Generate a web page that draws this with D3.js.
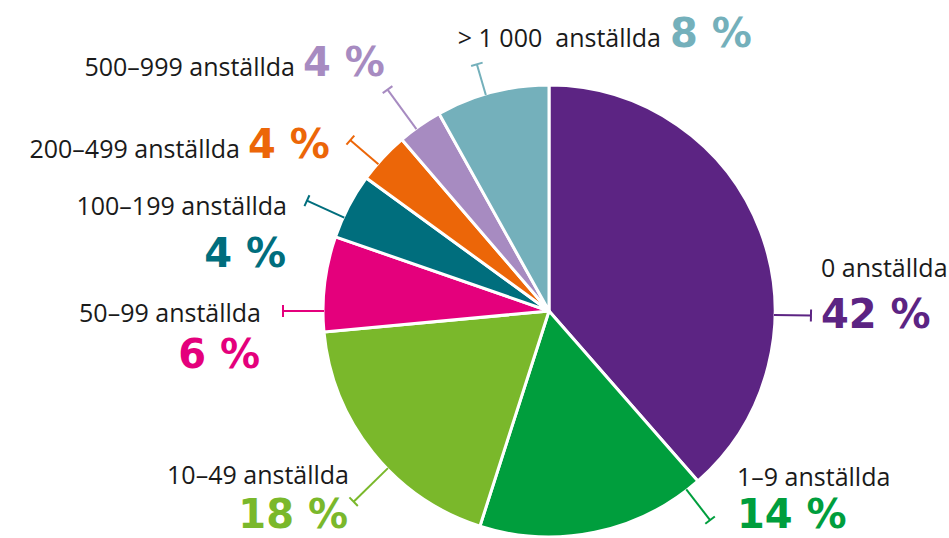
<!DOCTYPE html>
<html>
<head>
<meta charset="utf-8">
<script src="https://cdn.jsdelivr.net/npm/d3@7"></script>
<style>
  body { margin: 0; background: #fff; }
  text { white-space: pre; }
</style>
</head>
<body>
<svg id="pie"></svg>
<script>
// Data (slice shares as drawn, printed labels)
const categories = ["0 anställda", "1–9 anställda", "10–49 anställda", "50–99 anställda",
  "100–199 anställda", "200–499 anställda", "500–999 anställda", "> 1 000  anställda"];
const shares = [38.6, 16.4, 18.6, 6.8, 4.7, 3.7, 3.2, 8.1];
const pctLabels = ["42 %", "14 %", "18 %", "6 %", "4 %", "4 %", "4 %", "8 %"];
const colors = ["#5c2483", "#009e3d", "#7ab82b", "#e4007c", "#006e7d", "#ec6608", "#a78bc1", "#74b0bb"];

// label layout: leader angle (deg), leader end radius, name pos, pct pos
const layout = [
  { a: 91, r: 262, nx: 821, ny: 277, na: "start", px: 821, py: 328, pa: "start" },
  { a: 142.4, r: 264, nx: 737, ny: 486, na: "start", px: 737, py: 528, pa: "start" },
  { a: 225.7, r: 273, nx: 349, ny: 484, na: "end", px: 348, py: 528, pa: "end" },
  { a: 270, r: 266, nx: 261, ny: 322, na: "end", px: 260, py: 368, pa: "end" },
  { a: 294.5, r: 266, nx: 287, ny: 215, na: "end", px: 286, py: 267, pa: "end" },
  { a: 310.7, r: 262, nx: 240, ny: 158, na: "end", px: 248, py: 158, pa: "start" },
  { a: 323.9, r: 274, nx: 295, ny: 76, na: "end", px: 303, py: 76, pa: "start" },
  { a: 343.7, r: 257, nx: 661, ny: 47, na: "end", px: 670, py: 47, pa: "start" }
];

const W = 949, H = 538, cx = 549, cy = 311, R = 226;

const svg = d3.select("#pie").attr("width", W).attr("height", H);
const g = svg.append("g").attr("transform", `translate(${cx},${cy})`);

const pie = d3.pie().sort(null).value(d => d);
const arc = d3.arc().innerRadius(0).outerRadius(R);

g.selectAll("path")
  .data(pie(shares))
  .enter().append("path")
  .attr("d", arc)
  .attr("fill", (d, i) => colors[i])
  .attr("stroke", "#fff")
  .attr("stroke-width", 3)
  .attr("stroke-linejoin", "round");

// leader lines with end caps
layout.forEach((l, i) => {
  const rad = l.a * Math.PI / 180;
  const p0 = d3.pointRadial(rad, R - 1);
  const p1 = d3.pointRadial(rad, l.r);
  // perpendicular direction
  const ux = Math.cos(rad), uy = Math.sin(rad);
  g.append("line")
    .attr("x1", p0[0]).attr("y1", p0[1]).attr("x2", p1[0]).attr("y2", p1[1])
    .attr("stroke", colors[i]).attr("stroke-width", 2);
  g.append("line")
    .attr("x1", p1[0] - ux * 6).attr("y1", p1[1] - uy * 6)
    .attr("x2", p1[0] + ux * 6).attr("y2", p1[1] + uy * 6)
    .attr("stroke", colors[i]).attr("stroke-width", 2);
});

// labels
svg.selectAll("text.name")
  .data(categories)
  .enter().append("text")
  .attr("class", "name")
  .attr("x", (d, i) => layout[i].nx)
  .attr("y", (d, i) => layout[i].ny)
  .attr("text-anchor", (d, i) => layout[i].na)
  .attr("font-family", "'Open Sans', sans-serif")
  .attr("font-size", 25)
  .attr("fill", "#1a1a1a")
  .text(d => d);

svg.selectAll("text.pct")
  .data(pctLabels)
  .enter().append("text")
  .attr("class", "pct")
  .attr("x", (d, i) => layout[i].px)
  .attr("y", (d, i) => layout[i].py)
  .attr("text-anchor", (d, i) => layout[i].pa)
  .attr("font-family", "'DejaVu Sans', sans-serif")
  .attr("font-weight", "bold")
  .attr("font-size", 40)
  .attr("fill", (d, i) => colors[i])
  .text(d => d);
</script>
</body>
</html>
